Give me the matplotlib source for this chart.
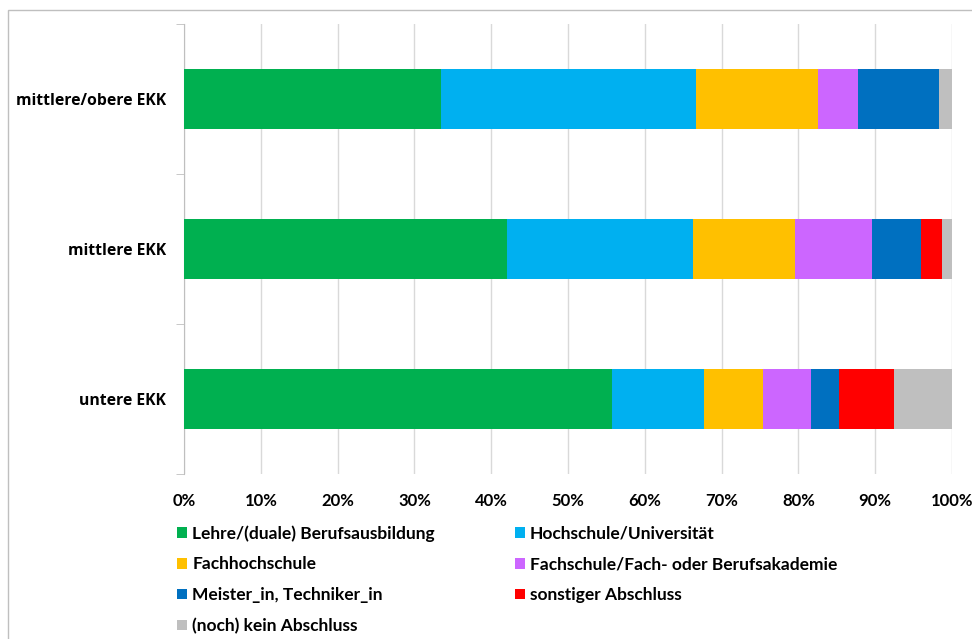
import matplotlib.pyplot as plt
from matplotlib.patches import Rectangle, Patch
from matplotlib.ticker import PercentFormatter, FixedLocator

groups = ['untere EKK', 'mittlere EKK', 'mittlere/obere EKK']

series = [
    'Lehre/(duale) Berufsausbildung',
    'Hochschule/Universität',
    'Fachhochschule',
    'Fachschule/Fach- oder Berufsakademie',
    'Meister_in, Techniker_in',
    'sonstiger Abschluss',
    '(noch) kein Abschluss',
]
colors = ['#00B050', '#00B0F0', '#FFC000', '#CC66FF', '#0070C0', '#FF0000', '#BFBFBF']

# shares in %, order: untere, mittlere, mittlere/obere
lehre = [55.7, 42.0, 33.4]
hochschule = [12.0, 24.3, 33.3]
fachhochschule = [7.7, 13.2, 15.8]
fachschule = [6.3, 10.1, 5.3]
meister = [3.6, 6.4, 10.5]
sonstiger = [7.1, 2.7, 0.0]
kein = [7.6, 1.3, 1.7]

values = [lehre, hochschule, fachhochschule, fachschule, meister, sonstiger, kein]

fig = plt.figure(figsize=(9.72, 6.39), dpi=100)
ax = fig.add_axes([184 / 972, 1 - 474 / 639, (952 - 184) / 972, 450 / 639])

y = range(len(groups))
left = [0.0] * len(groups)
for name, vals, c in zip(series, values, colors):
    ax.barh(y, vals, left=left, height=0.4, color=c, label=name, zorder=3)
    left = [l + v for l, v in zip(left, vals)]

ax.set_xlim(0, 100)
ax.set_ylim(-0.5, 2.5)
ax.set_xticks(range(0, 101, 10))
ax.xaxis.set_major_formatter(PercentFormatter(decimals=0))
ax.grid(axis='x', color='#d9d9d9', linewidth=1, zorder=0)
ax.set_yticks(list(y))
ax.set_yticklabels(groups, fontsize=11.3, fontweight='bold', family=['Open Sans', 'DejaVu Sans'])
ax.yaxis.set_minor_locator(FixedLocator([-0.5, 0.5, 1.5, 2.5]))
ax.tick_params(axis='y', which='major', length=0, pad=13)
ax.tick_params(axis='y', which='minor', length=6, color='#bfbfbf')
ax.tick_params(axis='x', length=0, pad=14)
for lbl in ax.get_xticklabels():
    lbl.set_fontweight('bold')
    lbl.set_fontsize(12)
    lbl.set_family(['Lato', 'DejaVu Sans'])
for s in ['top', 'right', 'bottom']:
    ax.spines[s].set_visible(False)
ax.spines['left'].set_color('#bfbfbf')

# legend, row-major order in two columns
handles = [Patch(facecolor=c, label=n) for n, c in zip(series, colors)]
order = [0, 2, 4, 6, 1, 3, 5]
fig.legend([handles[i] for i in order], [series[i] for i in order],
           ncol=2, loc='upper left', bbox_to_anchor=(177 / 972, 1 - 525 / 639),
           frameon=False, borderpad=0, borderaxespad=0,
           handlelength=0.58, handleheight=0.58, handletextpad=0.3,
           labelspacing=0.85, columnspacing=4.6,
           prop={'family': ['Lato', 'DejaVu Sans'], 'weight': 'bold', 'size': 12.5})

# outer chart border
fig.patches.append(Rectangle((8 / 972, -0.05), 1.0, 1 - 10 / 639 + 0.05,
                             transform=fig.transFigure, fill=False,
                             edgecolor='#bfbfbf', linewidth=1))

fig.savefig('out.png', dpi=100)
